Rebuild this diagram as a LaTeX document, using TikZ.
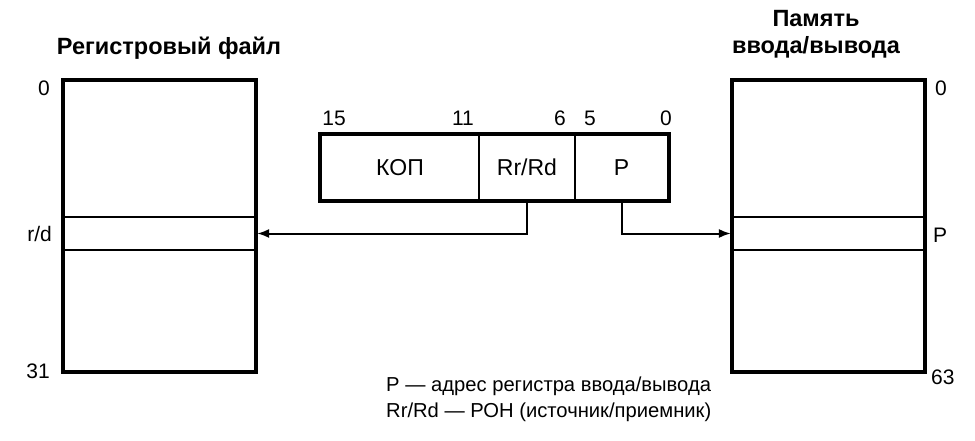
\documentclass[tikz,border=0pt]{standalone}
\usepackage{fontspec}
\setmainfont{Liberation Sans}
\usetikzlibrary{arrows.meta}
\begin{document}
\begin{tikzpicture}[x=1pt,y=-1pt,
  lbl/.style={inner sep=0pt,font=\fontsize{21}{24}\selectfont},
  leg/.style={inner sep=0pt,font=\fontsize{20.2}{24}\selectfont},
  ttl/.style={inner sep=0pt,font=\fontsize{23.5}{27}\selectfont\bfseries,align=center},
  mem/.style={draw,line width=3.5pt,minimum width=193pt,minimum height=292pt,inner sep=0pt},
  row/.style={draw,line width=2.2pt,minimum width=193pt,minimum height=33pt,inner sep=0pt},
  fld/.style={draw,line width=1.8pt,minimum height=65pt,inner sep=0pt,font=\fontsize{23}{26}\selectfont},
  conn/.style={line width=2pt,-{Latex[length=12pt,width=9pt]}}]
\useasboundingbox (0,0) rectangle (975,441);
% register file
\node[mem] (rf) at (159.5,226) {};
\node[row] (rfrow) at (159.5,233.5) {};
\node[ttl] (rft) at (169,48) {Регистровый файл};
\node[lbl,anchor=east] (rf0) at (50,88) {0};
\node[lbl,anchor=east] (rfrd) at (52,234) {r/d};
\node[lbl,anchor=east] (rf31) at (50,371) {31};
% io memory
\node[mem] (io) at (828.5,226) {};
\node[row] (iorow) at (828.5,233.5) {};
\node[ttl] (iot) at (816,34) {Память\\ввода/вывода};
\node[lbl,anchor=west] (io0) at (935,88) {0};
\node[lbl,anchor=west] (iop) at (933,235) {P};
\node[lbl,anchor=west] (io63) at (931,377) {63};
% instruction
\node[fld,minimum width=158pt] (kop) at (400,167.5) {КОП};
\node[fld,minimum width=96pt] (rr) at (527,167.5) {Rr/Rd};
\node[fld,minimum width=93pt] (p) at (621.5,167.5) {P};
\draw[line width=3.5pt] (kop.north west) rectangle (p.south east);
\node[lbl] (b15) at (334,118) {15};
\node[lbl] (b11) at (463,118) {11};
\node[lbl] (b6) at (560,118) {6};
\node[lbl] (b5) at (590,118) {5};
\node[lbl] (b0) at (666,118) {0};
% connectors
\draw[conn] (rr.south) |- (rfrow.east);
\draw[conn] (p.south) |- (iorow.west);
% legend
\node[leg,anchor=west] (l1) at (386,386) {P — адрес регистра ввода/вывода};
\node[leg,anchor=west] (l2) at (386,412) {Rr/Rd — РОН (источник/приемник)};
\end{tikzpicture}
\end{document}
